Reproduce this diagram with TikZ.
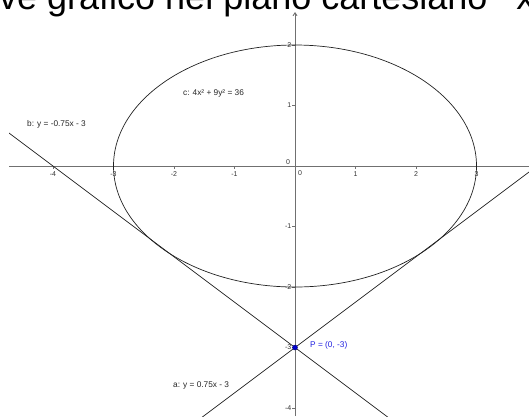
\documentclass[tikz,border=0pt]{standalone}
\usepackage{fontspec}
\setmainfont{Liberation Sans}
\usetikzlibrary{arrows.meta}
\definecolor{axisgray}{HTML}{707070}
\definecolor{curvecol}{HTML}{222222}
\definecolor{ptblue}{HTML}{0000CC}
\definecolor{lblblue}{HTML}{2020E0}
\tikzset{
  axisline/.style={draw=axisgray,line width=0.9pt},
  curve/.style={draw=curvecol,line width=0.7pt},
  ticklbl/.style={font=\fontsize{7}{8}\selectfont,text=black!80,inner sep=0pt},
  objlbl/.style={font=\fontsize{8.3}{10}\selectfont,text=black!85,inner sep=0pt,anchor=west},
}
\begin{document}
\begin{tikzpicture}[x=1pt,y=-1pt]
\useasboundingbox (0,0) rectangle (529,416);
% title (cut at top)
\node[anchor=base west,inner sep=0pt,font=\fontsize{36}{40}\selectfont] (title) at (-1,9.5) {ve grafico nel piano cartesiano\hspace{29pt}x};
\begin{scope}
\clip (9,11) rectangle (529,416);
% axes
\draw[axisline] (9,166) -- (529,166);
\draw[axisline,-{Straight Barb[length=3pt,width=4pt]}] (295,416) -- (295,12);
\begin{scope}[shift={(295,166)},x=60.5pt,y=60.5pt]
  % ticks
  \foreach \t in {-4,-3,-2,-1,1,2,3}{
    \draw[axisgray,line width=0.6pt] (\t,0) -- ++(0,-3pt);
    \node[ticklbl] (xl\t) at ([yshift=-8pt]\t,0) {\t};
  }
  \foreach \t in {-4,-3,-2,-1,1,2}{
    \draw[axisgray,line width=0.6pt] (0,\t) -- ++(-3pt,0);
    \node[ticklbl,anchor=east] (yl\t) at ([xshift=-3.5pt]0,\t) {\t};
  }
  \node[ticklbl] (x0) at (5pt,-7pt) {0};
  \node[ticklbl] (y0) at (-7pt,4pt) {0};
  % ellipse
  \draw[curve] (0,0) ellipse [x radius=3, y radius=2];
  % lines
  \draw[curve] (-2,-4.5) -- (5,0.75);
  \draw[curve] (-5,0.75) -- (2,-4.5);
  % point P
  \node[circle,fill=ptblue,draw=ptblue!60!black,inner sep=0pt,minimum size=5pt] (P) at (0,-3) {};
\end{scope}
\end{scope}
% labels
\node[objlbl] (lc) at (183,93) {c: 4x² + 9y² = 36};
\node[objlbl] (lb) at (27,124) {b: y = -0.75x - 3};
\node[objlbl] (la) at (173,385) {a: y = 0.75x - 3};
\node[objlbl,text=lblblue] (lP) at (310,345) {P = (0, -3)};
\end{tikzpicture}
\end{document}
